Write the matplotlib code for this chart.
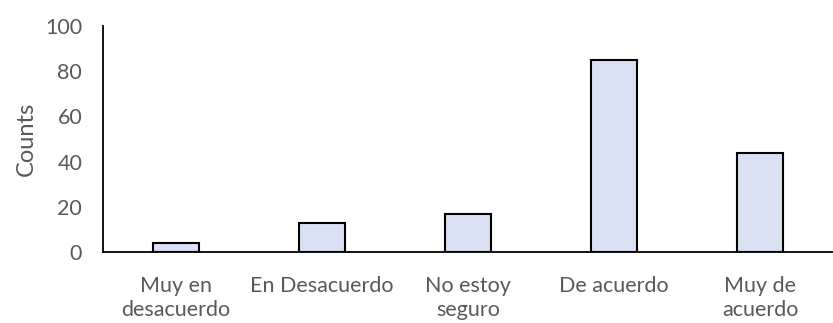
import matplotlib.pyplot as plt

categories = ["Muy en\ndesacuerdo", "En Desacuerdo", "No estoy\nseguro", "De acuerdo", "Muy de\nacuerdo"]
counts = [4, 13, 17, 85, 44]
yticks = [0, 20, 40, 60, 80, 100]

plt.rcParams["font.family"] = ["Lato", "DejaVu Sans"]
grey = "#595959"

fig = plt.figure(figsize=(8.33, 3.23), dpi=100)
ax = fig.add_axes([0.1237, 0.22, 0.8763, 0.6995])

x = range(len(categories))
ax.bar(x, counts, width=0.32, color="#DAE1F3", edgecolor="black", linewidth=1.5, zorder=3)

ax.set_xlim(-0.5, len(categories) - 0.5)
ax.set_ylim(0, 100)
ax.set_yticks(yticks)
ax.set_xticks(list(x))
ax.set_xticklabels(categories, fontsize=15.5, color=grey, linespacing=1.3)
ax.tick_params(axis="y", length=0, pad=15, labelsize=15.5, labelcolor=grey)
ax.tick_params(axis="x", length=0, pad=17)
ax.set_ylabel("Counts", fontsize=17, color=grey, labelpad=6)

for s in ["top", "right"]:
    ax.spines[s].set_visible(False)
for s in ["left", "bottom"]:
    ax.spines[s].set_linewidth(1.3)
    ax.spines[s].set_color("black")

fig.savefig("out.png", dpi=100)
